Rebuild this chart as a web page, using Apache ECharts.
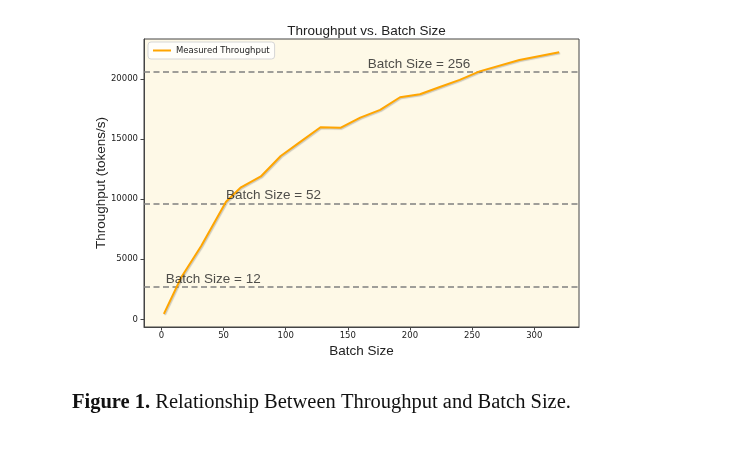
<!DOCTYPE html>
<html>
<head>
<meta charset="utf-8">
<script src="https://cdn.jsdelivr.net/npm/echarts@6/dist/echarts.min.js"></script>
<style>
  html, body { margin: 0; padding: 0; background: #ffffff; }
  #chart { width: 743px; height: 456px; }
</style>
</head>
<body>
<div id="chart"></div>
<script>
// ---- data ----
const batchSizes = [2, 16, 32, 52, 64, 80, 96, 112, 128, 144, 160, 176, 192, 208, 224, 240, 256, 288, 320];
const throughput = [450, 3500, 6100, 9800, 11000, 11900, 13600, 14800, 16000, 15950, 16800, 17450, 18500, 18750, 19350, 19950, 20650, 21600, 22250];
const refValues = [2700, 9650, 20600];
const refLabels = ['Batch Size = 12', 'Batch Size = 52', 'Batch Size = 256'];
const refLabelX = [3.5, 52, 166];
const xTicks = [0, 50, 100, 150, 200, 250, 300];
const yTicks = [0, 5000, 10000, 15000, 20000];
const titleText = 'Throughput vs. Batch Size';
const xName = 'Batch Size';
const yName = 'Throughput (tokens/s)';
const seriesName = 'Measured Throughput';
const caption = 'Relationship Between Throughput and Batch Size.';
const captionPrefix = 'Figure 1.';

const chart = echarts.init(document.getElementById('chart'), null, { renderer: 'canvas' });

const lineData = batchSizes.map((b, i) => [b, throughput[i]]);
const annData = refLabelX.map((x, i) => ({ value: [x, refValues[i]], label: { formatter: refLabels[i] } }));

const tickFont = { fontFamily: 'DejaVu Sans', fontSize: 8.5, color: '#222', formatter: v => String(v) };

chart.setOption({
  animation: false,
  backgroundColor: '#ffffff',
  title: {
    text: titleText,
    left: 361.5,
    textAlign: 'center',
    top: 19,
    textStyle: { fontFamily: 'Liberation Sans', fontSize: 13.5, fontWeight: 'normal', color: '#222' }
  },
  grid: {
    left: 144, right: 164, top: 39, bottom: 129,
    show: true, backgroundColor: '#fef9e7', borderColor: '#444', borderWidth: 1
  },
  legend: {
    left: 148, top: 42,
    data: [{ name: seriesName, icon: 'rect' }],
    itemWidth: 18, itemHeight: 2, itemGap: 6,
    padding: [4, 5, 4, 5],
    backgroundColor: 'rgba(255,255,255,0.8)',
    borderColor: '#d6d6d6', borderWidth: 1, borderRadius: 3,
    textStyle: { fontFamily: 'DejaVu Sans', fontSize: 8.5, color: '#222' }
  },
  xAxis: {
    type: 'value', min: -14, max: 336,
    name: xName, nameLocation: 'middle', nameGap: 17, nameMoveOverlap: false,
    nameTextStyle: { fontFamily: 'Liberation Sans', fontSize: 13.5, color: '#222' },
    axisLine: { show: true, onZero: false, lineStyle: { color: '#444', width: 1 } },
    axisTick: { show: true, length: 3.5, inside: false, customValues: xTicks, lineStyle: { color: '#444' } },
    axisLabel: Object.assign({ customValues: xTicks, margin: 4 }, tickFont),
    splitLine: { show: false }
  },
  yAxis: {
    type: 'value', min: -640, max: 23350,
    name: yName, nameLocation: 'middle', nameGap: 36, nameRotate: 90, nameMoveOverlap: false,
    nameTextStyle: { fontFamily: 'Liberation Sans', fontSize: 13.5, color: '#222' },
    axisLine: { show: true, onZero: false, lineStyle: { color: '#444', width: 1 } },
    axisTick: { show: true, length: 3.5, inside: false, customValues: yTicks, lineStyle: { color: '#444' } },
    axisLabel: Object.assign({ customValues: yTicks, margin: 6 }, tickFont),
    splitLine: { show: false }
  },
  series: [
    {
      name: seriesName,
      type: 'line',
      data: lineData,
      symbol: 'none',
      showSymbol: false,
      lineStyle: {
        color: '#FFA500', width: 2,
        shadowColor: 'rgba(0,0,0,0.2)', shadowBlur: 1, shadowOffsetX: 1, shadowOffsetY: 1
      },
      itemStyle: { color: '#FFA500' },
      z: 5,
      markLine: {
        silent: true,
        symbol: ['none', 'none'],
        label: { show: false },
        lineStyle: { color: '#808080', type: [6, 3.5], width: 1.5 },
        data: refValues.map(v => ({ yAxis: v }))
      }
    },
    {
      name: 'annotations',
      type: 'scatter',
      data: annData,
      symbolSize: 0,
      silent: true,
      label: {
        show: true,
        position: 'right',
        distance: 0,
        offset: [0, -8],
        fontFamily: 'Liberation Sans', fontSize: 13.5, color: '#222'
      },
      z: 6
    }
  ],
  graphic: [
    {
      type: 'text',
      left: 72, top: 392,
      style: {
        text: '{b|' + captionPrefix + '} ' + caption,
        rich: {
          b: { fontFamily: 'Liberation Serif', fontSize: 20.5, fontWeight: 'bold', fill: '#111' }
        },
        font: '20.5px "Liberation Serif"',
        fill: '#111'
      }
    }
  ]
});
</script>
</body>
</html>
